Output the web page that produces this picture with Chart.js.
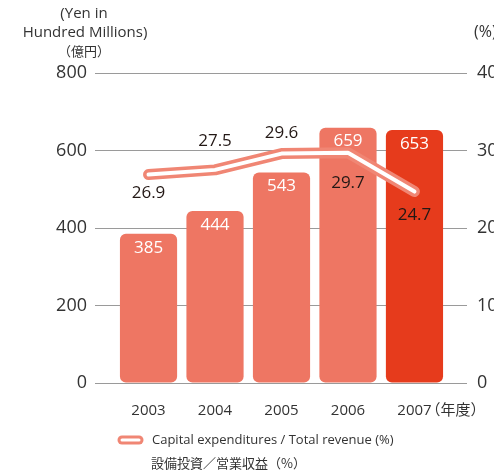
<!DOCTYPE html>
<html><head><meta charset="utf-8">
<script src="https://cdn.jsdelivr.net/npm/chart.js@4/dist/chart.umd.min.js"></script>
<style>html,body{margin:0;padding:0;background:#fff;overflow:hidden}#wrap{width:494px;height:473px;position:relative}</style>
</head><body><div id="wrap"><canvas id="c" width="494" height="473"></canvas></div>
<script>
const years = ['2003', '2004', '2005', '2006', '2007'];
const capex = [385, 444, 543, 659, 653];
const ratio = [26.9, 27.5, 29.6, 29.7, 24.7];
const leftTicks = [0, 200, 400, 600, 800];
const rightTicks = [0, 10, 20, 30, 40];

const FONT = "'Open Sans', 'Noto Sans', sans-serif";
const JFONT = "'Noto Sans CJK JP', 'Open Sans', sans-serif";
const barColors = ['#EE7663', '#EE7663', '#EE7663', '#EE7663', '#E63B1C'];
const lineLabelDy = [19, -29, -20, 30, 24];

const pts = (arr) => arr.map((v, i) => ({x: i, y: v}));

const overlay = {
  id: 'overlay',
  afterDatasetsDraw(chart) {
    const ctx = chart.ctx;
    ctx.save();
    const bm = chart.getDatasetMeta(2);
    ctx.font = "17px " + FONT;
    ctx.fillStyle = '#ffffff';
    ctx.textAlign = 'center';
    ctx.textBaseline = 'middle';
    bm.data.forEach((el, i) => {
      ctx.fillText(String(capex[i]), el.x, el.y + 14);
    });
    const lm = chart.getDatasetMeta(0);
    ctx.fillStyle = '#231815';
    lm.data.forEach((el, i) => {
      ctx.fillText(ratio[i].toFixed(1), el.x, el.y + lineLabelDy[i]);
    });
    ctx.restore();
  },
  afterDraw(chart) {
    const ctx = chart.ctx;
    ctx.save();
    ctx.fillStyle = '#333333';
    ctx.textBaseline = 'middle';
    ctx.textAlign = 'center';
    ctx.font = "15px " + FONT;
    ctx.fillText('(Yen in', 84, 14);
    ctx.fillText('Hundred Millions)', 85, 33);
    ctx.font = "13px " + JFONT;
    ctx.fillText('（億円）', 84, 51);
    ctx.textAlign = 'left';
    ctx.font = "16px " + FONT;
    ctx.fillText('(%)', 474, 32);
    const xs = chart.scales.x;
    ctx.font = "15px " + JFONT;
    ctx.fillText('（年度）', xs.getPixelForValue(4) + 11, 409);
    const lx = 118, ly = 440;
    ctx.beginPath();
    ctx.lineCap = 'round';
    ctx.strokeStyle = '#F08674';
    ctx.lineWidth = 9;
    ctx.moveTo(lx + 4, ly); ctx.lineTo(lx + 21, ly); ctx.stroke();
    ctx.beginPath();
    ctx.strokeStyle = '#ffffff';
    ctx.lineWidth = 3;
    ctx.moveTo(lx + 4, ly); ctx.lineTo(lx + 21, ly); ctx.stroke();
    ctx.fillStyle = '#333333';
    ctx.font = "13px " + FONT;
    ctx.fillText('Capital expenditures / Total revenue (%)', 152, 440);
    ctx.font = "13px " + JFONT;
    ctx.fillText('設備投資／営業収益（%）', 151, 463);
    ctx.restore();
  }
};

new Chart(document.getElementById('c'), {
  data: {
    datasets: [
      {
        type: 'line', label: 'ratio-outer', data: pts(ratio), yAxisID: 'y2',
        borderColor: '#F08674', borderWidth: 11, borderCapStyle: 'round', borderJoinStyle: 'round',
        pointRadius: 0, tension: 0, order: 2
      },
      {
        type: 'line', label: 'ratio-inner', data: pts(ratio), yAxisID: 'y2',
        borderColor: '#ffffff', borderWidth: 4, borderCapStyle: 'round', borderJoinStyle: 'round',
        pointRadius: 0, tension: 0, order: 1
      },
      {
        type: 'bar', label: 'capex', data: pts(capex), yAxisID: 'y',
        backgroundColor: barColors, borderRadius: 6, borderSkipped: false,
        barPercentage: 0.86, categoryPercentage: 1, order: 3
      }
    ]
  },
  options: {
    responsive: false,
    animation: false,
    devicePixelRatio: 1,
    layout: {padding: {top: 73, left: 0, right: 0, bottom: 0}},
    plugins: {legend: {display: false}, tooltip: {enabled: false}},
    scales: {
      x: {
        type: 'linear', min: -0.805, max: 4.79, offset: false,
        afterBuildTicks: (s) => { s.ticks = years.map((_, i) => ({value: i})); },
        afterFit: (s) => { s.height = 90; },
        ticks: {
          callback: (v) => years[v] !== undefined ? years[v] : '',
          font: {family: FONT, size: 15}, color: '#333333', padding: 11, maxRotation: 0, autoSkip: false
        },
        grid: {display: false}, border: {display: false}
      },
      y: {
        position: 'left', min: 0, max: 800,
        afterBuildTicks: (s) => { s.ticks = leftTicks.map(v => ({value: v})); },
        afterFit: (s) => { s.width = 95; },
        ticks: {font: {family: FONT, size: 18}, color: '#333333', padding: 8},
        grid: {color: '#9a9a9a', lineWidth: 1, drawTicks: false},
        border: {display: false}
      },
      y2: {
        position: 'right', min: 0, max: 40,
        afterBuildTicks: (s) => { s.ticks = rightTicks.map(v => ({value: v})); },
        afterFit: (s) => { s.width = 27; },
        ticks: {font: {family: FONT, size: 18}, color: '#333333', padding: 10},
        grid: {display: false, drawTicks: false},
        border: {display: false}
      }
    }
  },
  plugins: [overlay]
});
</script>
</body></html>
